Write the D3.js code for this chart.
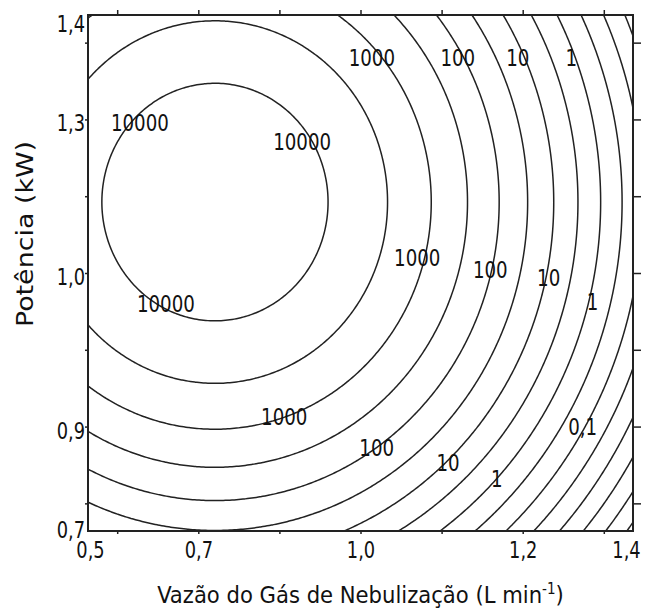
<!DOCTYPE html>
<html>
<head>
<meta charset="utf-8">
<script src="https://cdn.jsdelivr.net/npm/d3@7"></script>
<style>
  body { margin: 0; background: #fff; }
  text { font-family: "DejaVu Sans Condensed", "DejaVu Sans", sans-serif; fill: #111; }
</style>
</head>
<body>
<div id="chart"></div>
<script>
// both factors are in coded units of the central composite design (alpha = 1.68)
var codedLimits = [-1.68, 1.68];
var minorTicks = [-1.5, -1, -0.5, 0, 0.5, 1, 1.5];

var xTickValues = [-1.68, -1, 0, 1, 1.68];
var xTickLabels = ["0,5", "0,7", "1,0", "1,2", "1,4"];
var yTickValues = [-1.68, -1, 0, 1, 1.68];
var yTickLabels = ["0,7", "0,9", "1,0", "1,3", "1,4"];

// second order model of log10(response), read off the contour spacing
// order: b0, x, y, x^2, y^2, x*y
var modelCoefs = [3.619, -1.389, 0.581, -0.774, -0.629, 0];

// contour levels, log10 of the response
var levels = [4, 3.5, 3, 2.5, 2, 1.5, 1, 0.5, 0, -0.5, -1, -1.5, -2, -2.5, -3, -3.5];

// labels written on the contours, placed in coded units
var labelTexts = ["10000", "10000", "10000", "1000", "100", "10", "1",
                  "1000", "100", "10", "1", "1000", "100", "10", "1", "0,1"];
var labelX = [-1.36, -0.36, -1.20, 0.07, 0.60, 0.97, 1.30,
              0.35, 0.80, 1.16, 1.43, -0.47, 0.10, 0.54, 0.84, 1.37];
var labelY = [0.98, 0.85, -0.20, 1.40, 1.40, 1.40, 1.40,
              0.10, 0.02, -0.03, -0.19, -0.94, -1.14, -1.24, -1.34, -1.00];

var margin = {top: 15, right: 13, bottom: 84, left: 88},
    width = 646 - margin.left - margin.right,
    height = 615 - margin.top - margin.bottom;

var svg = d3.select("#chart")
  .append("svg")
    .attr("width", width + margin.left + margin.right)
    .attr("height", height + margin.top + margin.bottom)
  .append("g")
    .attr("transform", "translate(" + margin.left + "," + margin.top + ")");

var x = d3.scaleLinear().domain(codedLimits).range([0, width]);
var y = d3.scaleLinear().domain(codedLimits).range([height, 0]);

// squeeze text a little so the DejaVu glyphs look like the narrow original font
function condense(sel, k) {
  sel.each(function() {
    var len = this.getComputedTextLength();
    d3.select(this)
      .attr("textLength", len * k)
      .attr("lengthAdjust", "spacingAndGlyphs");
  });
}

// evaluate the model on a grid a little larger than the frame, then clip
var n = 260, m = 250, ext = [-1.76, 1.76];
var stepX = (ext[1] - ext[0]) / n, stepY = (ext[1] - ext[0]) / m;
function model(u, v) {
  var c = modelCoefs;
  return c[0] + c[1] * u + c[2] * v + c[3] * u * u + c[4] * v * v + c[5] * u * v;
}
var grid = new Array(n * m);
for (var j = 0; j < m; j++) {
  for (var i = 0; i < n; i++) {
    grid[j * n + i] = model(ext[0] + (i + 0.5) * stepX, ext[1] - (j + 0.5) * stepY);
  }
}

var contours = d3.contours().size([n, m]).thresholds(levels)(grid);

var project = d3.geoTransform({
  point: function(px, py) {
    this.stream.point(x(ext[0] + px * stepX), y(ext[1] - py * stepY));
  }
});

svg.append("clipPath")
    .attr("id", "frame-clip")
  .append("rect")
    .attr("width", width)
    .attr("height", height);

svg.append("g")
    .attr("clip-path", "url(#frame-clip)")
  .selectAll("path")
  .data(contours)
  .enter().append("path")
    .attr("d", d3.geoPath(project))
    .attr("fill", "none")
    .attr("stroke", "#222")
    .attr("stroke-width", 1.5)
    .attr("stroke-linejoin", "round");

// contour labels
svg.append("g")
  .selectAll("text")
  .data(labelTexts)
  .enter().append("text")
    .attr("x", (d, i) => x(labelX[i]))
    .attr("y", (d, i) => y(labelY[i]))
    .attr("text-anchor", "middle")
    .attr("dominant-baseline", "central")
    .style("font-size", "23px")
    .text((d) => d)
    .call(condense, 0.88);

// small tick marks on all four sides
function bareTicks(axis, size) {
  return axis.tickValues(minorTicks).tickSize(size).tickFormat("");
}
svg.append("g").call(bareTicks(d3.axisTop(x), 5));
svg.append("g").attr("transform", "translate(0," + height + ")").call(bareTicks(d3.axisBottom(x), 3));
svg.append("g").call(bareTicks(d3.axisLeft(y), 3));
svg.append("g").attr("transform", "translate(" + width + ",0)").call(bareTicks(d3.axisRight(y), 8));

// labelled ticks
svg.append("g")
    .attr("class", "xlab")
    .attr("transform", "translate(0," + height + ")")
    .call(d3.axisBottom(x)
      .tickValues(xTickValues)
      .tickSize(0)
      .tickPadding(11)
      .tickFormat((d, i) => xTickLabels[i]));

svg.append("g")
    .attr("class", "ylab")
    .call(d3.axisLeft(y)
      .tickValues(yTickValues)
      .tickSize(0)
      .tickPadding(3)
      .tickFormat((d, i) => yTickLabels[i]));

svg.selectAll(".domain").remove();
svg.selectAll(".tick line").attr("stroke", "#222").attr("stroke-width", 1.5);
svg.selectAll(".xlab text, .ylab text")
    .attr("fill", "#111")
    .style("font-size", "23px")
    .style("font-family", "'DejaVu Sans Condensed', 'DejaVu Sans', sans-serif")
    .call(condense, 0.86);

// labels at the ends of the range sit slightly inside, as in the original
function inward(d) {
  return d === codedLimits[1] ? -1 : d === codedLimits[0] ? 1 : 0;
}
svg.selectAll(".xlab text").attr("dx", (d) => inward(d) < 0 ? -7 : inward(d) * 2);
svg.selectAll(".ylab text").attr("dy", "0.5em").attr("y", (d) => -inward(d) * 5);

// frame
svg.append("rect")
    .attr("width", width)
    .attr("height", height)
    .attr("fill", "none")
    .attr("stroke", "#222")
    .attr("stroke-width", 2);

// axis titles
var xTitle = svg.append("text")
    .attr("x", width / 2)
    .attr("y", height + 72)
    .attr("text-anchor", "middle")
    .style("font-size", "23.5px");
xTitle.append("tspan").text("Vazão do Gás de Nebulização (L min");
xTitle.append("tspan").attr("dy", -9).style("font-size", "15px").text("-1");
xTitle.append("tspan").attr("dy", 9).text(")");

svg.append("text")
    .attr("transform", "translate(" + (-55) + "," + (height / 2 - 39) + ") rotate(-90)")
    .attr("text-anchor", "middle")
    .attr("textLength", 186)
    .attr("lengthAdjust", "spacingAndGlyphs")
    .style("font-size", "23.5px")
    .text("Potência (kW)");
</script>
</body>
</html>
